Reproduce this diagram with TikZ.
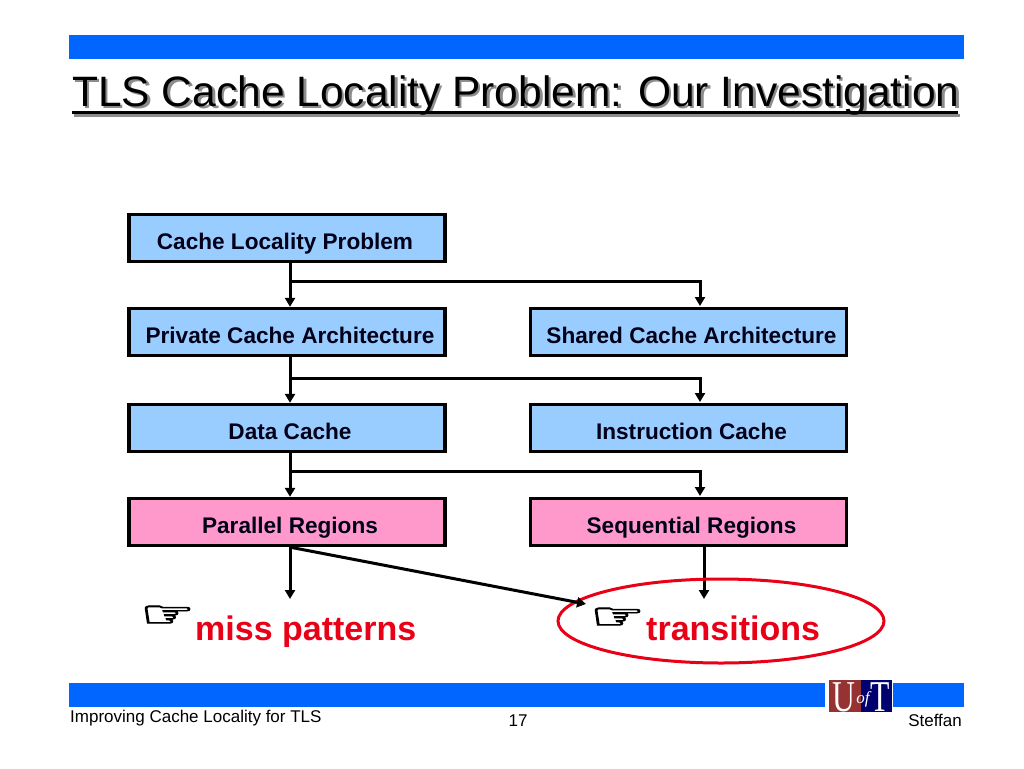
\documentclass[tikz,border=0pt]{standalone}
\usepackage{fontspec}
\setmainfont{Liberation Sans}
\newfontfamily\handfont[RawFeature={embolden=2.5}]{DejaVu Sans}
\newfontfamily\logofont{Liberation Serif}
\usetikzlibrary{arrows.meta}
\definecolor{barblue}{RGB}{0,102,255}
\definecolor{boxblue}{RGB}{153,204,255}
\definecolor{boxpink}{RGB}{255,153,204}
\definecolor{hotred}{RGB}{234,0,22}
\definecolor{logored}{RGB}{150,50,50}
\definecolor{logonavy}{RGB}{0,0,110}
\newcommand{\fs}[1]{\fontsize{#1}{#1}\selectfont}
\newcommand{\nudge}[1]{\hspace*{6pt}#1}
\newcommand{\handglyph}{\scalebox{1.65}[1]{☞}}
\tikzset{
  x=1pt,y=-1pt,
  bar/.style={fill=barblue,draw=none},
  flowbox/.style={draw=black,line width=3.3pt,minimum width=316pt,minimum height=47pt,inner sep=0pt,text height=22pt,text depth=0pt,font=\fs{22.6}\bfseries,text=black!90!blue},
  bluebox/.style={flowbox,fill=boxblue},
  pinkbox/.style={flowbox,fill=boxpink},
  link/.style={line width=3pt,draw=black},
  arrowlink/.style={link,-{Triangle[length=9pt,width=10pt]}},
  redtext/.style={text=hotred,font=\fs{34}\bfseries,inner sep=0pt,anchor=base west},
  hand/.style={font=\handfont\fs{37},inner sep=0pt,anchor=base west},
  foot/.style={font=\fs{17},inner sep=0pt,text=black},
  titletext/.style={font=\fs{42.5},inner sep=0pt,anchor=base west}
}
\begin{document}
\begin{tikzpicture}
\useasboundingbox (0,0) rectangle (1024,768);
\fill[white] (0,0) rectangle (1024,768);
\fill[bar] (69,35) rectangle (964,59);
\fill[bar] (69,683) rectangle (825,707);
\fill[bar] (893,683) rectangle (964,707);
% title
\fill[black!45] (74,114) rectangle (960,117);
\node[titletext,text=black!45] (titleshadow) at (74.5,108.5) {TLS Cache Locality Problem: Our Investigation};
\node[titletext] (title) at (72,106) {TLS Cache Locality Problem: Our Investigation};
\fill[black] (72,111) rectangle (958,114);
% boxes
\node[bluebox] (clp) at (287,238) {\hspace*{-4pt}Cache Locality Problem};
\node[bluebox] (pca) at (287,332) {\nudge{Private Cache Architecture}};
\node[bluebox] (sca) at (688.5,332) {\nudge{Shared Cache Architecture}};
\node[bluebox] (dc) at (287,428) {\nudge{Data Cache}};
\node[bluebox] (ic) at (688.5,428) {\nudge{Instruction Cache}};
\node[pinkbox] (pr) at (287,522) {\nudge{Parallel Regions}};
\node[pinkbox] (sr) at (688.5,522) {\nudge{Sequential Regions}};
% junctions
\coordinate (o1) at ([xshift=3pt]clp.south);
\coordinate (j1) at (290,281);
\coordinate (e1) at (700,281);
\coordinate (t1) at ([xshift=3pt]pca.north);
\coordinate (u1) at (700,306);
\coordinate (o2) at ([xshift=3pt]pca.south);
\coordinate (j2) at (290,378);
\coordinate (e2) at (700,378);
\coordinate (t2) at ([xshift=3pt]dc.north);
\coordinate (u2) at (700,402);
\coordinate (o3) at ([xshift=3pt]dc.south);
\coordinate (j3) at (290,471);
\coordinate (e3) at (700,471);
\coordinate (t3) at ([xshift=3pt]pr.north);
\coordinate (u3) at (700,496);
\coordinate (o4) at ([xshift=3pt]pr.south);
\coordinate (d4) at (290,599);
\coordinate (o5) at (704,547);
\coordinate (d5) at (704,599);
\coordinate (d6) at (586,604);
\draw[arrowlink] (o1) -- (t1);
\draw[arrowlink] (j1) -- (e1) -- (u1);
\draw[arrowlink] (o2) -- (t2);
\draw[arrowlink] (j2) -- (e2) -- (u2);
\draw[arrowlink] (o3) -- (t3);
\draw[arrowlink] (j3) -- (e3) -- (u3);
\draw[arrowlink] (o4) -- (d4);
\draw[arrowlink] (o5) -- (d5);
% ellipse and bottom labels
\draw[hotred,line width=3pt] (721,621) ellipse [x radius=163,y radius=42];
\draw[arrowlink] (o4) -- (d6);
\node[hand] (h1) at (140,627) {\handglyph};
\node[hand] (h2) at (590,629) {\handglyph};
\node[redtext] (mp) at (195,640) {miss patterns};
\node[redtext] (tr) at (646,640) {transitions};
% logo
\fill[logored] (829,680) rectangle (861,712);
\fill[logonavy] (861,680) rectangle (892,712);
\node[font=\logofont\fs{44},text=white,inner sep=0pt,anchor=base] (lu) at (844,711) {\scalebox{.72}[1]{U}};
\node[font=\logofont\itshape\fs{17},text=white,inner sep=0pt,anchor=base] (lo) at (863,703) {of};
\node[font=\logofont\fs{44},text=white,inner sep=0pt,anchor=base] (lt) at (880,711) {\scalebox{.72}[1]{T}};
% footer
\node[foot,anchor=base west] (fl) at (70,722) {Improving Cache Locality for TLS};
\node[foot,anchor=base] (fn) at (518,726) {17};
\node[foot,anchor=base east] (fr) at (962,726) {Steffan};
\end{tikzpicture}
\end{document}
